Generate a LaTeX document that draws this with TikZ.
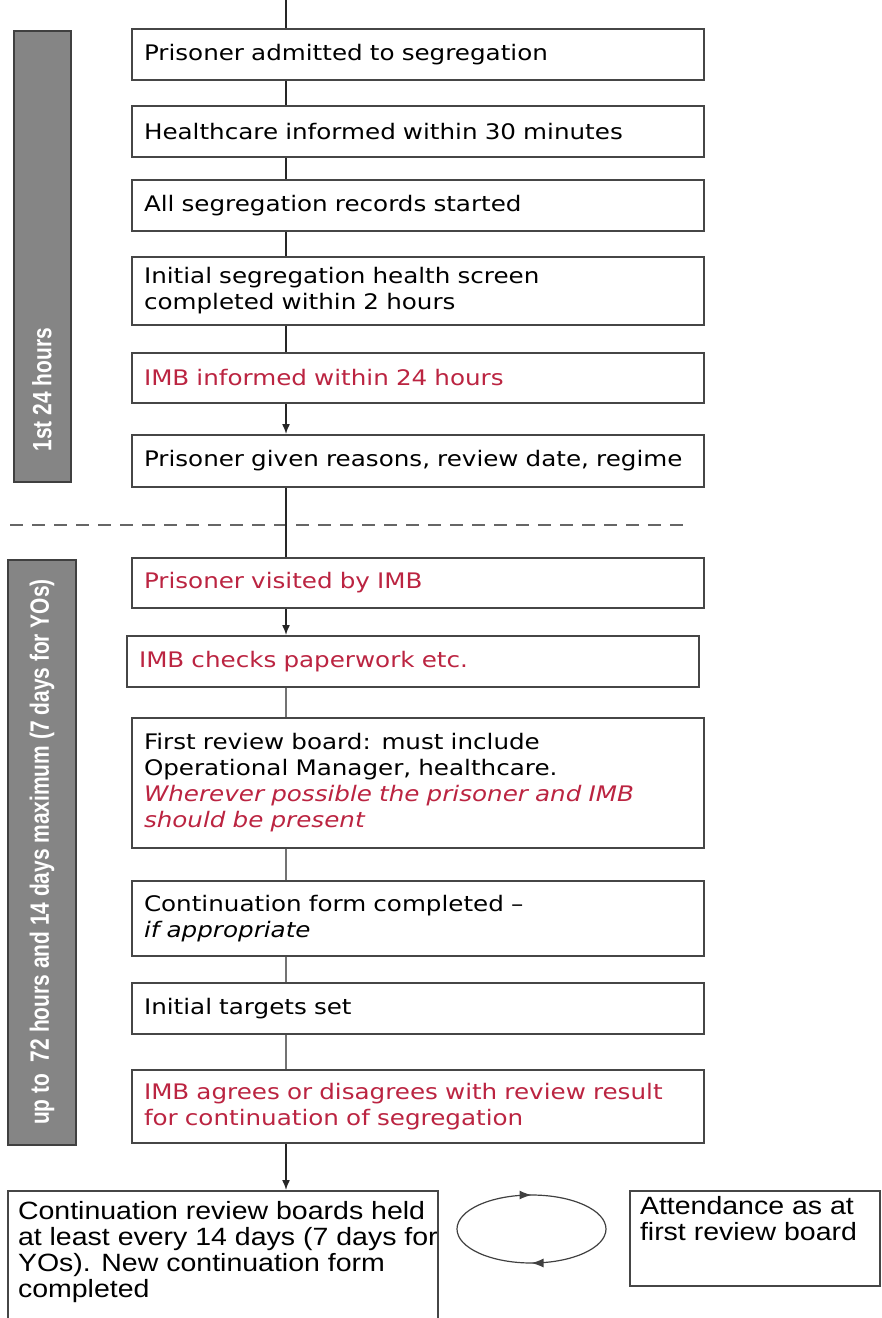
\documentclass[tikz,border=0pt]{standalone}
\usepackage{fontspec}
\setmainfont{DejaVu Sans}[FakeStretch=1.15]
\newfontfamily\lowfont{Liberation Sans}[FakeStretch=1.14]
\newfontfamily\barfont{Liberation Sans}[FakeStretch=0.79]
\usetikzlibrary{arrows.meta,decorations.markings}
\definecolor{imbred}{RGB}{187,36,65}
\definecolor{boxline}{RGB}{70,70,70}
\definecolor{barfill}{RGB}{133,133,133}

\begin{document}
\begin{tikzpicture}[x=1pt, y=-1pt, >={Latex[length=10pt,width=8pt]},
  stepbox/.style={draw=boxline, line width=2pt, text width=548pt, align=left, inner xsep=12pt, inner ysep=0pt, font=\fontsize{21.4}{26}\selectfont},
  lowbox/.style={draw=boxline, line width=1.6pt, inner xsep=10pt, inner ysep=6pt, anchor=north, font=\lowfont\fontsize{25}{26}\selectfont},
  timebar/.style={draw=black!75, line width=2pt, fill=barfill},
  bartext/.style={text=white, font=\barfont\bfseries\fontsize{26.5}{28}\selectfont, rotate=90},
  link/.style={line width=1.5pt, draw=black!85},
  lowlink/.style={line width=1.5pt, draw=black!55},
  imb/.style={text=imbred}]
  \useasboundingbox (0,0) rectangle (882,1318);

  \draw[timebar] (14,31) rectangle (71,482);
  \draw[timebar] (8,560) rectangle (76,1145);
  \node[bartext, anchor=west] (day) at (42,455) {1st 24 hours};
  \node[bartext] (fortnight) at (42,852) {up to\ \ 72 hours and 14 days maximum (7 days for YOs)};

  \draw[line width=1.5pt, black!60, dash pattern=on 13pt off 9pt] (10,525) -- (690,525);

  \coordinate (spine) at (286,0);
  \node[stepbox, minimum height=51pt] (admit) at (418,54.5) {Prisoner admitted to segregation};
  \node[stepbox, minimum height=51pt] (health) at (418,131.5) {Healthcare informed within 30 minutes};
  \node[stepbox, minimum height=51pt] (records) at (418,205.5) {All segregation records started};
  \node[stepbox, minimum height=68pt] (screen) at (418,291) {Initial segregation health screen\\ completed within 2 hours};
  \node[stepbox, imb, minimum height=50pt] (imbtold) at (418,378) {IMB informed within 24 hours};
  \node[stepbox, minimum height=52pt] (reasons) at (418,461) {Prisoner given reasons, review date, regime};
  \node[stepbox, imb, minimum height=50pt] (visit) at (418,583) {Prisoner visited by IMB};
  \node[stepbox, imb, minimum height=51pt] (papers) at (413,661.5) {IMB checks paperwork etc.};
  \node[stepbox, minimum height=130pt] (board) at (418,782.5) {First review board: must include\\ Operational Manager, healthcare.\\ {\color{imbred}\itshape Wherever possible the prisoner and IMB\\ should be present}};
  \node[stepbox, minimum height=75pt] (contform) at (418,918.5) {Continuation form completed --\\ {\itshape if appropriate}};
  \node[stepbox, minimum height=51pt] (targets) at (418,1008.5) {Initial targets set};
  \node[stepbox, imb, minimum height=73pt] (agree) at (418,1106.5) {IMB agrees or disagrees with review result\\ for continuation of segregation};

  \node[lowbox] (boards) at (223,1190) {\begin{minipage}[t][118pt][t]{410pt}\raggedright
    \vspace*{5pt}Continuation review boards held\\ \mbox{at least every 14 days (7 days for}\\ YOs). New continuation form\\ completed\end{minipage}};
  \node[lowbox] (attend) at (755,1190) {\begin{minipage}[t][83pt][t]{230pt}\raggedright
    Attendance as at\\ first review board\end{minipage}};

  \draw[link] (spine) -- (admit.north -| spine);
  \draw[link] (admit.south -| spine) -- (health.north -| spine);
  \draw[link] (health.south -| spine) -- (records.north -| spine);
  \draw[link] (records.south -| spine) -- (screen.north -| spine);
  \draw[link] (screen.south -| spine) -- (imbtold.north -| spine);
  \draw[link, ->] (imbtold.south -| spine) -- (reasons.north -| spine);
  \draw[link] (reasons.south -| spine) -- (visit.north -| spine);
  \draw[link, ->] (visit.south -| spine) -- (papers.north -| spine);
  \draw[lowlink] (papers.south -| spine) -- (board.north -| spine);
  \draw[lowlink] (board.south -| spine) -- (contform.north -| spine);
  \draw[lowlink] (contform.south -| spine) -- (targets.north -| spine);
  \draw[lowlink] (targets.south -| spine) -- (agree.north -| spine);
  \draw[link, ->] (agree.south -| spine) -- (boards.north -| spine);

  \coordinate (loop) at (531.5,1229);
  \draw[line width=1.2pt, black!75, postaction={decorate}, decoration={markings,
      mark=at position 0.25 with {\arrow{Latex[length=12pt,width=9pt]}},
      mark=at position 0.75 with {\arrow{Latex[length=12pt,width=9pt]}}}]
    (loop) ellipse [x radius=74.5, y radius=34];
\end{tikzpicture}
\end{document}
